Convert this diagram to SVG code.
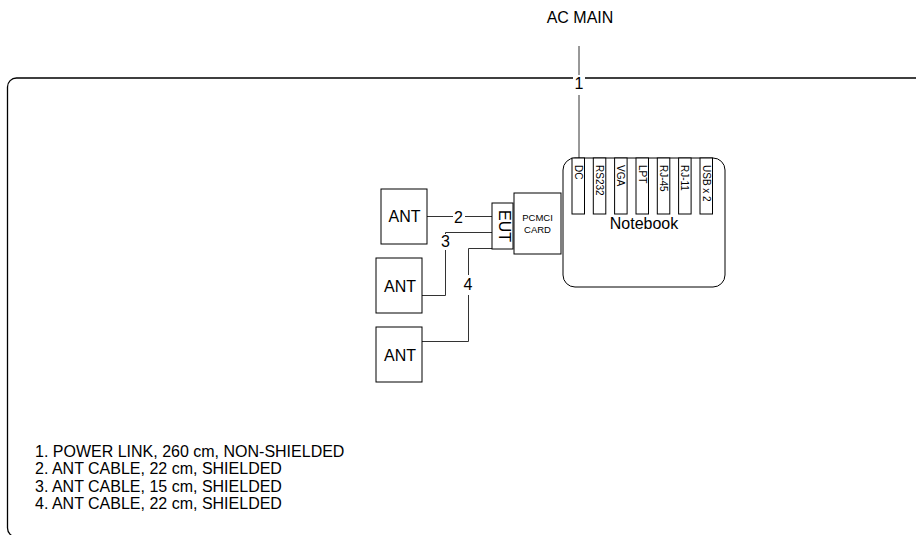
<svg xmlns="http://www.w3.org/2000/svg" width="916" height="535" viewBox="0 0 916 535">
<style>
text{font-family:"Liberation Sans",Arial,sans-serif;fill:#000}
.box{fill:#fff;stroke:#000;stroke-width:1}
.ln{fill:none;stroke:#333;stroke-width:1}
.lbl{font-size:16px;text-anchor:middle}
.port{font-size:10px}
.leg{font-size:16px}
.bg{fill:#fff;stroke:none}
</style>
<rect width="916" height="535" fill="#fff"/>
<g id="frame">
<rect x="7.5" y="78" width="940" height="459" rx="9" fill="none" stroke="#000" stroke-width="1.3"/>
</g>
<g id="connectors">
<line class="ln" x1="579" y1="46" x2="579" y2="158"/>
<line class="ln" x1="427" y1="216.5" x2="492" y2="216.5"/>
<polyline class="ln" points="492,232.5 445.5,232.5 445.5,295.5 422,295.5"/>
<polyline class="ln" points="492,248.5 468.5,248.5 468.5,341.5 422,341.5"/>
<rect class="bg" x="573" y="75" width="12" height="20"/>
<text class="lbl" x="579" y="89">1</text>
<rect class="bg" x="453" y="209" width="12" height="15"/>
<text class="lbl" x="458.5" y="223">2</text>
<rect class="bg" x="439" y="234" width="13" height="16"/>
<text class="lbl" x="445.5" y="247">3</text>
<rect class="bg" x="462" y="275" width="13" height="20"/>
<text class="lbl" x="468" y="290">4</text>
</g>
<g id="ac-main"><text class="lbl" x="580" y="23">AC MAIN</text></g>
<g id="ant1"><rect class="box" x="381" y="189" width="46" height="55"/><text class="lbl" x="404.5" y="222">ANT</text></g>
<g id="ant2"><rect class="box" x="376" y="258" width="46" height="55"/><text class="lbl" x="400" y="292">ANT</text></g>
<g id="ant3"><rect class="box" x="376" y="327" width="46" height="55"/><text class="lbl" x="400" y="361">ANT</text></g>
<g id="eut"><rect class="box" x="492" y="203" width="21" height="46"/><text class="lbl" transform="translate(498.5,226) rotate(90)">EUT</text></g>
<g id="pcmci"><rect class="box" x="514" y="193" width="47" height="61"/>
<text x="537.5" y="221" font-size="9.5" text-anchor="middle">PCMCI</text>
<text x="537.5" y="233" font-size="9.5" text-anchor="middle">CARD</text></g>
<g id="notebook">
<rect class="box" x="563" y="158" width="162" height="129" rx="12"/>
<rect class="box" x="572" y="158" width="12.5" height="56"/>
<rect class="box" x="593.3" y="158" width="12.5" height="56"/>
<rect class="box" x="614.6" y="158" width="12.5" height="56"/>
<rect class="box" x="636" y="158" width="12.5" height="56"/>
<rect class="box" x="657.3" y="158" width="12.5" height="56"/>
<rect class="box" x="678.6" y="158" width="12.5" height="56"/>
<rect class="box" x="700" y="158" width="12.5" height="56"/>
<text class="port" transform="translate(574.8,165) rotate(90)">DC</text>
<text class="port" transform="translate(596.1,165) rotate(90)">RS232</text>
<text class="port" transform="translate(617.4,165) rotate(90)">VGA</text>
<text class="port" transform="translate(638.8,165) rotate(90)">LPT</text>
<text class="port" transform="translate(660.1,165) rotate(90)">RJ-45</text>
<text class="port" transform="translate(681.4,165) rotate(90)">RJ-11</text>
<text class="port" transform="translate(702.8,165) rotate(90)">USB x 2</text>
<text x="644" y="229" font-size="16" text-anchor="middle">Notebook</text>
</g>
<g id="legend">
<text class="leg" x="35" y="457">1. POWER LINK, 260 cm, NON-SHIELDED</text>
<text class="leg" x="35" y="474.3">2. ANT CABLE, 22 cm, SHIELDED</text>
<text class="leg" x="35" y="491.6">3. ANT CABLE, 15 cm, SHIELDED</text>
<text class="leg" x="35" y="509">4. ANT CABLE, 22 cm, SHIELDED</text>
</g>
</svg>
